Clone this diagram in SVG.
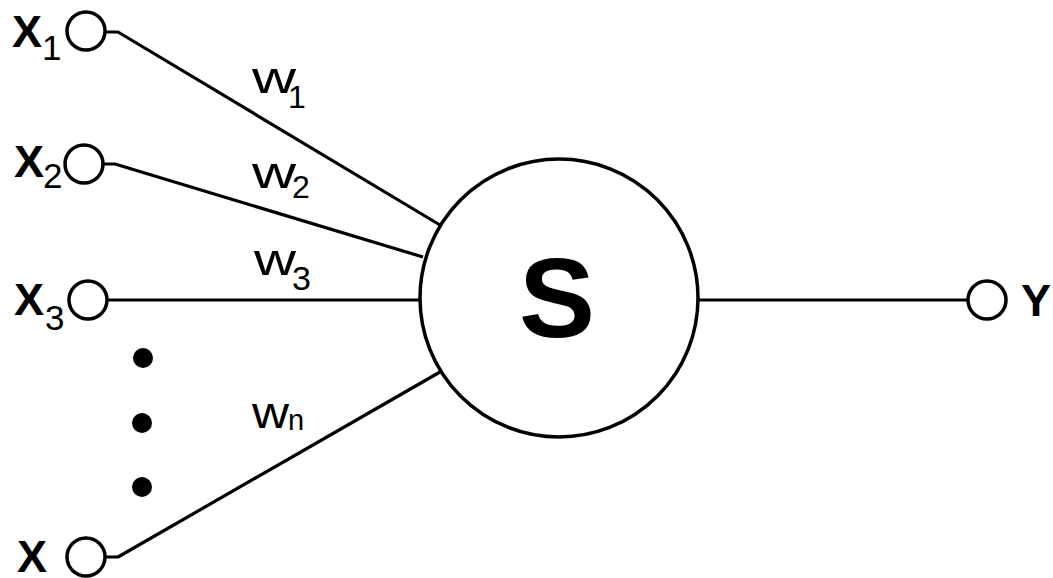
<svg xmlns="http://www.w3.org/2000/svg" width="1053" height="578" viewBox="0 0 1053 578">
<style>
.n{fill:#fff;stroke:#000;stroke-width:3.5}
.c{fill:none;stroke:#000;stroke-width:3.2;stroke-linejoin:round}
.lb{font-family:"Liberation Sans",Arial,sans-serif;font-weight:bold;font-size:45px;fill:#000}
.sb{font-family:"Liberation Sans",Arial,sans-serif;font-size:35px;fill:#000}
.w{font-family:"Liberation Sans",Arial,sans-serif;font-size:44px;fill:#000}
.ws{font-family:"Liberation Sans",Arial,sans-serif;font-size:32px;fill:#000}
</style>
<rect width="1053" height="578" fill="#fff"/>
<g id="connectors">
<path class="c" d="M105,32 H118 L440,225"/>
<path class="c" d="M103,164 H115 L423,257"/>
<path class="c" d="M107,300 H420"/>
<path class="c" d="M105,557 H118 L440,372"/>
<path class="c" d="M698,300 H968"/>
<text class="w" x="252" y="93" textLength="44" lengthAdjust="spacingAndGlyphs">w</text><text class="ws" x="288" y="108">1</text>
<text class="w" x="252" y="188" textLength="44" lengthAdjust="spacingAndGlyphs">w</text><text class="ws" x="292" y="198">2</text>
<text class="w" x="254" y="275" textLength="42" lengthAdjust="spacingAndGlyphs">w</text><text class="ws" x="292" y="290" style="font-size:34px">3</text>
<text class="w" x="252" y="428" textLength="37" lengthAdjust="spacingAndGlyphs">w</text><text class="ws" x="288" y="430" style="font-size:29px">n</text>
</g>
<g id="x1"><circle class="n" cx="86" cy="31" r="19"/><text class="lb" x="12" y="47">X</text><text class="sb" x="42" y="60">1</text></g>
<g id="x2"><circle class="n" cx="84" cy="164" r="19"/><text class="lb" x="14" y="177">X</text><text class="sb" x="43" y="188">2</text></g>
<g id="x3"><circle class="n" cx="88" cy="300" r="19"/><text class="lb" x="14" y="315">X</text><text class="sb" x="45" y="330">3</text></g>
<g id="dots"><circle cx="143" cy="358" r="10"/><circle cx="142" cy="423" r="10"/><circle cx="142" cy="487" r="10"/></g>
<g id="xn"><circle class="n" cx="86" cy="557" r="19"/><text class="lb" x="17" y="572">X</text></g>
<g id="sum"><circle class="n" cx="559" cy="298" r="139"/><text class="lb" x="557" y="337" style="font-size:114px" text-anchor="middle">S</text></g>
<g id="y"><circle class="n" cx="987" cy="300" r="19"/><text class="lb" x="1021" y="316">Y</text></g>
</svg>
